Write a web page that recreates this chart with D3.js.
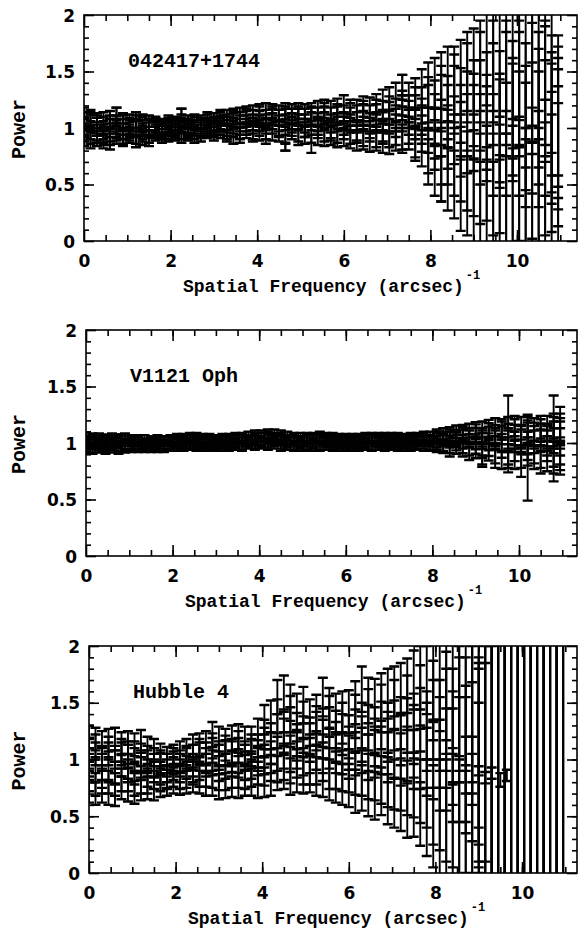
<!DOCTYPE html>
<html><head><meta charset="utf-8">
<script src="https://cdn.jsdelivr.net/npm/d3@7"></script>
<style>body{margin:0;background:#fff}svg{display:block}</style>
</head><body>
<script>
// ---------- DATA ----------
const freq = [0.00,0.15,0.30,0.45,0.60,0.75,0.90,1.05,1.20,1.35,1.50,1.65,1.80,1.95,2.10,2.25,2.40,2.55,2.70,2.85,
3.00,3.15,3.30,3.45,3.60,3.75,3.90,4.05,4.20,4.35,4.50,4.65,4.80,4.95,5.10,5.25,5.40,5.55,5.70,5.85,
6.00,6.15,6.30,6.45,6.60,6.75,6.90,7.05,7.20,7.35,7.50,7.65,7.80,7.95,8.10,8.25,8.40,8.55,8.70,8.85,
9.00,9.15,9.30,9.45,9.60,9.75,9.90,10.05,10.20,10.35,10.50,10.65,10.80,10.95];

const xTickLabels = ["0","2","4","6","8","10"];
const yTickLabels = ["0","0.5","1","1.5","2"];
const panelNames = ["042417+1744","V1121 Oph","Hubble 4"];

// Panel 1: 042417+1744
const p1A = [1.10,1.08,1.05,1.02,1.03,1.10,1.04,1.05,1.04,1.03, 1.04,1.02,1.02,1.03,1.04,1.11,1.05,1.04,1.05,1.06,
1.07,1.08,1.09,1.10,1.11,1.12,1.13,1.12,1.15,1.14, 1.13,1.15,1.14,1.15,1.13,1.14,1.16,1.17,1.16,1.18,
1.21,1.17,1.16,1.19,1.18,1.21,1.24,1.26,1.30,1.36, 1.28,1.30,1.36,1.38,1.40,1.42,1.44,1.42,1.45,1.50,
1.50,1.55,1.62,1.60,1.58,1.65,1.60,1.62,1.55,1.60, 1.50,1.45,1.40,1.10];
const p1B = [1.02,0.98,0.97,0.95,0.96,0.99,0.97,0.98,0.99,0.97, 0.98,0.99,0.98,0.99,1.00,1.01,1.00,0.99,1.01,1.01,
1.02,1.03,1.03,1.02,1.04,1.04,1.05,1.04,1.05,1.06, 1.04,1.05,1.06,1.05,1.04,1.06,1.05,1.06,1.04,1.05,
1.06,1.04,1.05,1.06,1.04,1.05,1.06,1.05,1.07,1.08, 1.06,1.04,1.02,0.98,0.95,1.00,0.92,0.98,0.90,0.95,
1.00,0.90,0.95,0.85,1.00,0.90,1.05,0.95,0.85,1.00, 0.90,1.00,0.95,0.90];
const p1C = [0.96,0.94,0.92,0.90,0.93,0.94,0.93,0.94,0.93,0.92, 0.94,0.95,0.96,0.96,0.97,0.96,0.95,0.93,0.97,0.97,
0.98,0.97,0.97,0.93,0.97,0.98,0.97,0.96,0.97,0.96, 0.95,0.87,0.97,0.95,0.94,0.86,0.93,0.92,0.93,0.91,
0.92,0.90,0.89,0.90,0.88,0.89,0.88,0.87,0.90,0.89, 0.93,0.88,0.82,0.70,0.62,0.60,0.55,0.50,0.42,0.40,
0.35,0.30,0.30,0.25,0.28,0.25,0.30,0.28,0.35,0.30, 0.40,0.45,0.50,0.60];
const p1D = [1.06,1.04,1.01,1.06,1.00,1.03,1.01,1.02,1.01,1.00, 1.01,1.00,1.00,1.01,1.02,1.03,1.02,1.01,1.03,1.03,
1.04,1.05,1.05,1.06,1.07,1.08,1.09,1.08,1.09,1.10, 1.09,1.10,1.10,1.10,1.09,1.10,1.10,1.11,1.10,1.11,
1.12,1.10,1.11,1.12,1.11,1.12,1.14,1.13,1.16,1.18, 1.17,1.15,1.20,1.18,1.20,1.22,1.18,1.25,1.20,1.15,
1.22,1.20,1.25,1.30,1.20,1.35,1.25,1.30,1.20,1.35, 1.25,1.30,1.20,1.20];
const p1E = [1.00,1.06,1.03,0.98,1.07,1.00,1.06,1.00,1.07,1.05, 1.00,1.04,0.96,1.05,0.98,1.06,0.97,1.06,0.99,1.08,
1.00,1.10,1.00,1.08,1.01,1.10,1.02,1.14,1.02,1.12, 1.00,1.12,1.03,1.12,1.00,1.11,1.02,1.14,0.99,1.13,
1.02,1.14,0.98,1.15,1.00,1.16,0.98,1.18,1.02,1.22, 1.12,1.22,1.10,1.25,1.08,1.30,1.10,1.35,1.05,1.40,
1.10,1.45,1.05,1.50,0.95,1.45,1.10,1.40,1.00,1.45, 1.10,1.35,1.05,1.00];
const p1F = [0.92,0.90,0.95,0.93,0.89,0.97,0.91,0.96,0.90,0.95, 0.91,0.97,0.93,0.94,0.95,0.93,0.98,0.96,0.94,0.99,
0.95,1.00,0.95,0.99,0.94,1.01,0.95,1.00,0.93,1.02, 0.99,0.94,1.00,0.92,1.00,0.95,0.99,0.96,0.97,0.95,
0.98,0.94,0.96,0.93,0.97,0.92,0.96,0.93,0.95,0.92, 0.98,0.85,0.95,0.80,0.85,0.75,0.78,0.70,0.68,0.62,
0.60,0.55,0.60,0.50,0.55,0.45,0.50,0.55,0.45,0.60, 0.55,0.65,0.70,0.75];
const p1Err = [0.08,0.08,0.08,0.08,0.08,0.08,0.07,0.07,0.07,0.07, 0.07,0.06,0.06,0.06,0.06,0.06,0.06,0.06,0.06,0.06,
0.06,0.06,0.07,0.07,0.07,0.07,0.07,0.07,0.07,0.07, 0.07,0.07,0.07,0.07,0.08,0.08,0.08,0.08,0.08,0.08,
0.08,0.08,0.09,0.09,0.09,0.09,0.10,0.10,0.10,0.11, 0.12,0.14,0.16,0.20,0.22,0.25,0.28,0.30,0.33,0.35,
0.38,0.40,0.42,0.45,0.48,0.50,0.52,0.55,0.55,0.58, 0.60,0.60,0.62,0.62];
const p1ExtraX = [0.75, 2.25, 4.65, 7.35, 8.25];
const p1ExtraY = [1.13, 1.12, 0.83, 1.38, 0.55];
const p1ExtraErr = [0.05, 0.05, 0.03, 0.09, 0.20];

// Panel 2: V1121 Oph
const p2A = [1.05,1.04,1.04,1.03,1.04,1.03,1.04,1.03,1.02,1.03, 1.02,1.02,1.02,1.03,1.04,1.04,1.05,1.05,1.04,1.04,
1.03,1.04,1.04,1.05,1.05,1.06,1.07,1.07,1.08,1.08, 1.07,1.06,1.05,1.05,1.05,1.05,1.06,1.05,1.05,1.04,
1.04,1.04,1.04,1.05,1.05,1.05,1.05,1.05,1.05,1.04, 1.05,1.05,1.06,1.06,1.07,1.08,1.09,1.10,1.10,1.11,
1.12,1.12,1.13,1.14,1.13,1.14,1.15,1.13,1.15,1.12, 1.14,1.13,1.15,1.14];
const p2B = [0.99,0.99,1.00,0.99,0.99,1.00,0.99,0.99,0.99,0.98, 0.99,0.98,0.99,0.99,1.00,1.00,1.01,1.00,1.00,1.00,
0.99,1.00,1.00,1.01,1.01,1.01,1.02,1.02,1.03,1.02, 1.02,1.01,1.01,1.00,1.01,1.01,1.01,1.01,1.00,1.00,
1.00,1.00,1.00,1.01,1.01,1.01,1.00,1.01,1.00,1.00, 1.00,1.01,1.01,1.01,1.01,1.02,1.01,1.02,1.01,1.02,
1.01,1.02,1.01,1.03,1.00,1.02,1.01,1.02,1.00,1.01, 1.02,1.00,1.02,1.01];
const p2C = [0.95,0.95,0.96,0.95,0.96,0.95,0.96,0.96,0.97,0.96, 0.96,0.96,0.97,0.97,0.97,0.98,0.98,0.97,0.97,0.97,
0.97,0.97,0.98,0.98,0.98,0.99,0.99,0.99,1.00,0.99, 0.99,0.98,0.97,0.97,0.98,0.97,0.98,0.98,0.97,0.97,
0.97,0.97,0.98,0.98,0.98,0.98,0.97,0.98,0.97,0.97, 0.97,0.98,0.97,0.98,0.97,0.96,0.96,0.96,0.94,0.95,
0.93,0.88,0.92,0.90,0.85,0.83,0.86,0.88,0.90,0.87, 0.88,0.86,0.90,0.88];
const p2D = [1.02,1.01,1.02,1.01,1.02,1.01,1.02,1.01,1.01,1.00, 1.00,1.00,1.01,1.01,1.02,1.02,1.03,1.02,1.02,1.02,
1.01,1.02,1.02,1.03,1.03,1.03,1.04,1.05,1.05,1.05, 1.04,1.03,1.03,1.02,1.03,1.03,1.03,1.03,1.02,1.02,
1.02,1.02,1.02,1.03,1.03,1.03,1.02,1.03,1.02,1.02, 1.02,1.03,1.03,1.03,1.04,1.05,1.05,1.06,1.06,1.07,
1.07,1.06,1.07,1.08,1.07,1.08,1.07,1.06,1.08,1.05, 1.07,1.06,1.08,1.07];
const p2E = [1.01,1.03,0.98,1.02,1.00,1.03,0.98,1.01,1.03,0.99, 1.01,1.03,0.98,1.02,1.01,1.03,0.99,1.03,1.01,1.03,
1.00,1.02,1.03,1.00,1.04,1.02,1.05,1.01,1.06,1.03, 1.05,1.02,1.04,1.01,1.04,1.00,1.04,1.02,1.03,1.01,
1.03,1.01,1.03,1.00,1.04,1.02,1.04,1.00,1.04,1.01, 1.04,1.02,1.04,1.01,1.05,1.03,1.07,1.04,1.08,1.05,
1.10,1.04,1.10,1.05,1.11,1.04,1.12,1.05,1.10,1.08, 1.11,1.04,1.12,1.10];
const p2F = [0.97,0.96,0.98,0.97,0.98,0.97,0.97,0.98,0.96,0.98, 0.97,0.98,0.96,0.98,0.99,0.97,0.99,0.98,0.99,0.98,
0.98,0.99,0.97,0.99,0.97,1.00,0.98,1.00,0.98,1.01, 0.97,1.00,0.98,0.99,0.97,0.99,0.97,1.00,0.98,0.99,
0.98,0.99,0.97,0.99,0.97,1.00,0.98,0.99,0.98,0.99, 0.98,0.99,0.99,0.97,0.99,0.98,0.93,0.99,0.97,0.91,
0.97,0.94,0.96,0.86,0.95,0.90,0.93,0.80,0.95,0.92, 0.83,0.95,0.84,0.93];
const p2Err = [0.045,0.045,0.045,0.045,0.045,0.045,0.045,0.04,0.04,0.04, 0.04,0.04,0.04,0.04,0.04,0.04,0.04,0.04,0.04,0.04,
0.04,0.04,0.04,0.04,0.04,0.04,0.04,0.04,0.04,0.04, 0.04,0.04,0.04,0.04,0.04,0.04,0.04,0.04,0.04,0.04,
0.04,0.04,0.04,0.04,0.04,0.04,0.04,0.04,0.04,0.04, 0.04,0.04,0.04,0.04,0.05,0.05,0.05,0.055,0.06,0.06,
0.065,0.07,0.075,0.08,0.08,0.09,0.09,0.10,0.10,0.10, 0.10,0.11,0.11,0.12];
const p2ExtraX = [9.15, 9.75, 10.20, 10.80, 10.95];
const p2ExtraY = [0.84, 1.10, 0.86, 1.04, 1.02];
const p2ExtraErr = [0.05, 0.32, 0.37, 0.38, 0.30];

// Panel 3: Hubble 4
const p3A = [1.20,1.18,1.15,1.17,1.18,1.14,1.15,1.13,1.16,1.10, 1.08,1.04,1.01,1.03,1.06,1.08,1.12,1.13,1.15,1.22,
1.18,1.16,1.19,1.20,1.18,1.17,1.24,1.35,1.38,1.55, 1.58,1.50,1.42,1.48,1.36,1.40,1.55,1.45,1.40,1.42,
1.42,1.50,1.62,1.52,1.50,1.55,1.58,1.60,1.62,1.65, 1.70,1.72,1.70,1.68,1.65,1.62,1.60,1.58,1.55,1.50,
1.30,1.20,1.15,1.10,1.10,1.05,1.10,1.05,1.10,1.05, 1.10,1.05,1.10,1.05];
const p3B = [0.95,0.90,0.85,0.92,0.88,0.95,0.90,0.88,0.92,0.86, 0.90,0.88,0.90,0.92,0.90,0.93,0.95,0.92,0.95,0.97,
0.92,0.94,0.96,0.95,0.93,0.95,0.98,1.00,1.02,1.05, 1.08,1.05,1.08,1.02,1.05,1.08,1.05,1.10,1.06,1.05,
1.02,1.05,1.08,1.02,1.05,1.08,1.02,1.05,1.00,1.05, 1.00,1.02,0.98,1.00,0.95,1.00,0.95,1.00,0.95,0.98,
0.95,0.90,0.95,0.90,0.95,0.90,0.95,0.90,0.95,0.90, 0.95,0.90,0.95,0.90];
const p3C = [0.72,0.70,0.72,0.70,0.69,0.75,0.73,0.71,0.74,0.75, 0.74,0.77,0.78,0.80,0.79,0.80,0.81,0.80,0.78,0.79,
0.76,0.77,0.78,0.77,0.79,0.80,0.78,0.80,0.82,0.88, 0.90,0.85,0.87,0.86,0.88,0.85,0.84,0.82,0.80,0.78,
0.77,0.72,0.75,0.70,0.68,0.72,0.65,0.62,0.60,0.55, 0.58,0.52,0.45,0.40,0.35,0.30,0.28,0.25,0.30,0.35,
0.60,0.75,0.80,0.85,0.80,0.85,0.80,0.85,0.80,0.85, 0.80,0.85,0.80,0.85];
const p3D = [1.08,1.05,1.00,1.05,1.02,1.05,1.03,1.00,1.04,0.98, 1.00,0.96,0.95,0.97,0.98,1.00,1.03,1.05,1.05,1.08,
1.05,1.06,1.07,1.08,1.05,1.06,1.10,1.15,1.18,1.25, 1.28,1.30,1.25,1.22,1.20,1.25,1.28,1.28,1.25,1.22,
1.20,1.25,1.30,1.28,1.25,1.30,1.28,1.30,1.32,1.30, 1.32,1.35,1.30,1.35,1.30,1.35,1.30,1.35,1.30,1.30,
1.15,1.05,1.00,1.00,1.00,1.00,1.00,1.00,1.00,1.00, 1.00,1.00,1.00,1.00];
const p3E = [0.82,1.12,0.80,1.10,0.78,1.08,0.82,1.06,0.80,1.02, 0.84,0.98,0.85,1.00,0.84,1.02,0.88,1.08,0.86,1.12,
0.84,1.10,0.86,1.14,0.85,1.10,0.90,1.22,0.95,1.38, 0.98,1.40,1.00,1.35,0.95,1.30,0.98,1.38,0.92,1.32,
0.90,1.38,0.88,1.42,0.85,1.45,0.80,1.48,0.78,1.50, 0.75,1.55,0.70,1.52,0.60,1.50,0.55,1.45,0.60,1.40,
0.90,1.00,0.90,1.00,0.90,1.00,0.90,1.00,0.90,1.00, 0.90,1.00,0.90,1.00];
const p3F = [1.00,0.78,1.02,0.80,0.98,0.82,1.06,0.78,0.98,0.80, 0.95,0.82,0.84,0.86,0.95,0.85,0.90,0.86,1.00,0.86,
1.02,0.84,1.05,0.86,1.02,0.88,1.05,0.90,1.10,0.95, 1.20,0.95,1.15,0.94,1.15,0.95,1.18,0.92,1.15,0.90,
1.10,0.88,1.18,0.85,1.15,0.82,1.20,0.78,1.18,0.75, 1.22,0.72,1.20,0.60,1.15,0.55,1.10,0.45,1.05,0.50,
1.00,0.95,1.00,0.95,1.00,0.95,1.00,0.95,1.00,0.95, 1.00,0.95,1.00,0.95];
const p3Err = [0.10,0.10,0.10,0.10,0.10,0.10,0.10,0.10,0.10,0.10, 0.10,0.10,0.10,0.10,0.10,0.10,0.10,0.10,0.10,0.11,
0.11,0.11,0.11,0.11,0.11,0.12,0.12,0.13,0.14,0.15, 0.16,0.16,0.16,0.16,0.17,0.17,0.17,0.18,0.18,0.18,
0.19,0.19,0.20,0.20,0.21,0.21,0.22,0.22,0.23,0.24, 0.26,0.28,0.30,0.35,0.40,0.45,0.50,0.55,0.60,0.70,
0.90,1.10,1.20,1.25,1.30,1.30,1.35,1.40,1.40,1.45, 1.45,1.50,1.50,1.50];
const p3ExtraX = [9.00, 9.15, 9.30, 9.50, 9.65];
const p3ExtraY = [0.90, 0.84, 0.88, 0.82, 0.86];
const p3ExtraErr = [0.04, 0.05, 0.05, 0.06, 0.05];

// ---------- LAYOUT ----------
const W = 581, H = 930;
const panels = [
  {name: panelNames[0], series: [p1A,p1B,p1C,p1D,p1E,p1F], err: p1Err, ex: [p1ExtraX,p1ExtraY,p1ExtraErr],
   left: 84, right: 577, top: 15, bottom: 241},
  {name: panelNames[1], series: [p2A,p2B,p2C,p2D,p2E,p2F], err: p2Err, ex: [p2ExtraX,p2ExtraY,p2ExtraErr],
   left: 86, right: 577, top: 330, bottom: 556},
  {name: panelNames[2], series: [p3A,p3B,p3C,p3D,p3E,p3F], err: p3Err, ex: [p3ExtraX,p3ExtraY,p3ExtraErr],
   left: 89, right: 577, top: 646, bottom: 873}
];
const pxPerUnit = 43.3;

const svg = d3.select("body").append("svg").attr("width", W).attr("height", H);

const monoFont = "'Liberation Mono', 'DejaVu Sans Mono', monospace";
const numFont = "'DejaVu Sans', 'Liberation Sans', sans-serif";

panels.forEach((p, pi) => {
  const x = d3.scaleLinear().domain([0, 10]).range([p.left, p.left + 10 * pxPerUnit]);
  const y = d3.scaleLinear().domain([0, 2]).range([p.bottom, p.top]);
  const g = svg.append("g");

  const clipId = "clip" + pi;
  svg.append("clipPath").attr("id", clipId)
    .append("rect").attr("x", p.left).attr("y", p.top)
    .attr("width", p.right - p.left).attr("height", p.bottom - p.top);

  const pts = [];
  p.series.forEach(s => s.forEach((v, i) => pts.push({x: freq[i], y: v, e: p.err[i]})));
  p.ex[0].forEach((fx, i) => pts.push({x: fx, y: p.ex[1][i], e: p.ex[2][i]}));

  const eb = g.append("g").attr("clip-path", `url(#${clipId})`);
  // vertical bars
  eb.selectAll("line.bar").data(pts).join("line").attr("class", "bar")
    .attr("x1", d => x(d.x)).attr("x2", d => x(d.x))
    .attr("y1", d => y(d.y - d.e)).attr("y2", d => y(d.y + d.e))
    .attr("stroke", "#000").attr("stroke-width", 1.9);
  // caps
  eb.selectAll("path.cap").data(pts).join("path").attr("class", "cap")
    .attr("d", d => {
      const cx = x(d.x), y0 = y(d.y - d.e), y1 = y(d.y + d.e);
      return `M${cx - 5},${y0}h10M${cx - 5},${y1}h10`;
    })
    .attr("fill", "none").attr("stroke", "#000").attr("stroke-width", 2.4);

  g.append("rect").attr("x", p.left).attr("y", p.top)
    .attr("width", p.right - p.left).attr("height", p.bottom - p.top)
    .attr("fill", "none").attr("stroke", "#000").attr("stroke-width", 1.6);

  const xMinor = d3.range(0.5, 11.01, 0.5);
  const xMajor = [0, 2, 4, 6, 8, 10];
  const yMinor = d3.range(0.1, 1.95, 0.1);
  const yMajor = [0, 0.5, 1, 1.5, 2];

  const tickStyle = sel => sel.call(s => s.select(".domain").remove())
    .call(s => s.selectAll("line").attr("stroke", "#000").attr("stroke-width", 1.6));

  g.append("g").attr("transform", `translate(0,${p.bottom})`)
    .call(d3.axisBottom(x).tickValues(xMinor).tickSize(-6).tickFormat(""))
    .call(tickStyle);
  g.append("g").attr("transform", `translate(0,${p.bottom})`)
    .call(d3.axisBottom(x).tickValues(xMajor).tickSize(-11).tickFormat((d, i) => xTickLabels[i]))
    .call(tickStyle)
    .call(s => s.selectAll("text").attr("y", 14).attr("dy", "0.71em")
      .attr("font-family", numFont).attr("font-weight", "bold").attr("font-size", 17).attr("fill", "#000"));
  g.append("g").attr("transform", `translate(0,${p.top})`)
    .call(d3.axisTop(x).tickValues(xMinor).tickSize(-6).tickFormat(""))
    .call(tickStyle);
  g.append("g").attr("transform", `translate(0,${p.top})`)
    .call(d3.axisTop(x).tickValues(xMajor).tickSize(-11).tickFormat(""))
    .call(tickStyle);

  g.append("g").attr("transform", `translate(${p.left},0)`)
    .call(d3.axisLeft(y).tickValues(yMinor).tickSize(-5).tickFormat(""))
    .call(tickStyle);
  g.append("g").attr("transform", `translate(${p.left},0)`)
    .call(d3.axisLeft(y).tickValues(yMajor).tickSize(-10).tickFormat((d, i) => yTickLabels[i]))
    .call(tickStyle)
    .call(s => s.selectAll("text").attr("x", -9).attr("dy", "0.36em")
      .attr("font-family", numFont).attr("font-weight", "bold").attr("font-size", 17).attr("fill", "#000"));
  g.append("g").attr("transform", `translate(${p.right},0)`)
    .call(d3.axisRight(y).tickValues(yMinor).tickSize(-5).tickFormat(""))
    .call(tickStyle);
  g.append("g").attr("transform", `translate(${p.right},0)`)
    .call(d3.axisRight(y).tickValues(yMajor).tickSize(-10).tickFormat(""))
    .call(tickStyle);

  g.append("text").attr("x", p.left + 44).attr("y", p.top + 52)
    .attr("font-family", monoFont).attr("font-weight", "bold").attr("font-size", 20)
    .text(p.name);

  const t = g.append("text").attr("x", p.left + 99).attr("y", p.bottom + 51)
    .attr("font-family", monoFont).attr("font-weight", "bold").attr("font-size", 18);
  t.append("tspan").text("Spatial Frequency (arcsec)");
  t.append("tspan").attr("dy", -13).attr("dx", 2).attr("font-size", 12).text("-1");

  g.append("text")
    .attr("transform", `translate(25,${(p.top + p.bottom) / 2 + 1}) rotate(-90)`)
    .attr("text-anchor", "middle")
    .attr("font-family", monoFont).attr("font-weight", "bold").attr("font-size", 20)
    .text("Power");
});
</script>
</body></html>
